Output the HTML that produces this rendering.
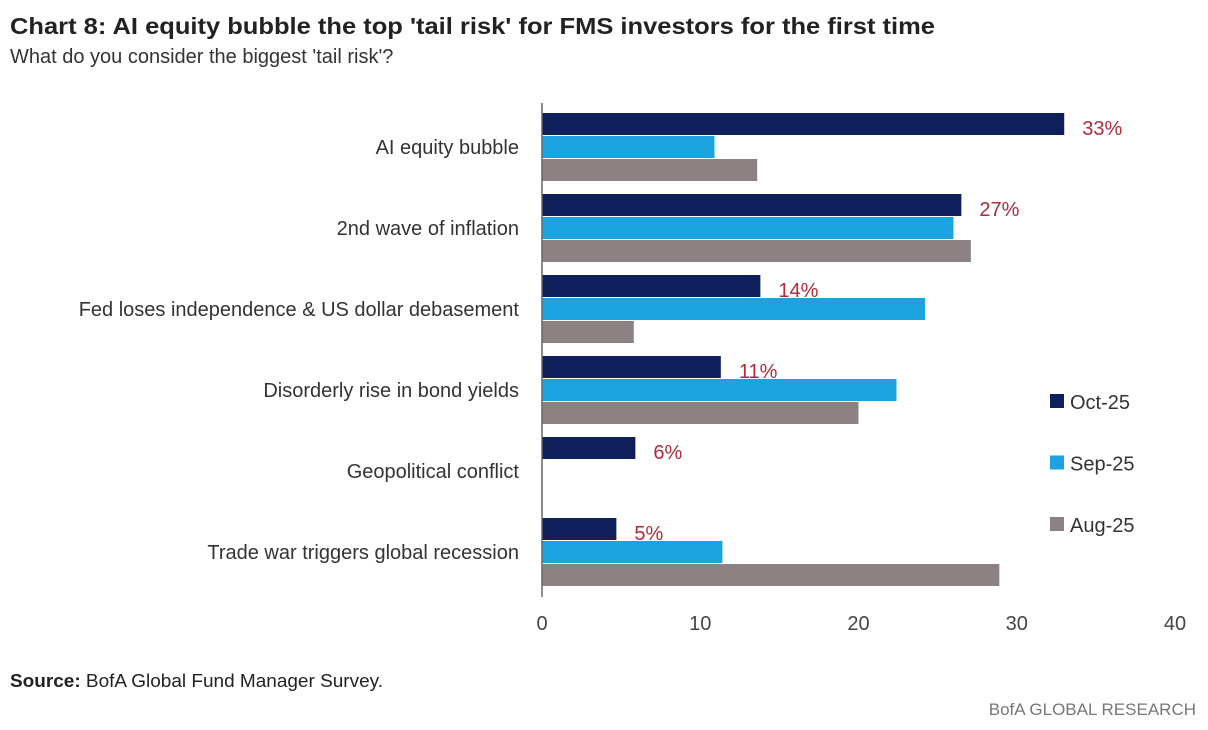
<!DOCTYPE html>
<html><head><meta charset="utf-8"><style>
body{margin:0;width:1208px;height:725px;background:#fff;overflow:hidden;font-family:"Liberation Sans",sans-serif;}
</style></head><body>
<svg id="c" width="1208" height="725" xmlns="http://www.w3.org/2000/svg">
<text x="10" y="34" font-size="23" font-weight="bold" fill="#222" textLength="925" lengthAdjust="spacingAndGlyphs">Chart 8: AI equity bubble the top 'tail risk' for FMS investors for the first time</text>
<text x="10" y="63" font-size="20" fill="#333">What do you consider the biggest 'tail risk'?</text>
<text x="10" y="687" font-size="18" fill="#222" textLength="373" lengthAdjust="spacingAndGlyphs"><tspan font-weight="bold">Source:</tspan> BofA Global Fund Manager Survey.</text>
<text x="1196" y="715" font-size="17" fill="#777" text-anchor="end">BofA GLOBAL RESEARCH</text>
<g id="plot"></g>
</svg>
<script>
const categories=["AI equity bubble","2nd wave of inflation","Fed loses independence & US dollar debasement","Disorderly rise in bond yields","Geopolitical conflict","Trade war triggers global recession"];
const oct25=[33,26.5,13.8,11.3,5.9,4.7];
const sep25=[10.9,26,24.2,22.4,0,11.4];
const aug25=[13.6,27.1,5.8,20,0,28.9];
const octLabels=["33%","27%","14%","11%","6%","5%"];
const ticks=[0,10,20,30,40];
const seriesNames=["Oct-25","Sep-25","Aug-25"];
const colors=["#0f1f5c","#1ba3e0","#8c8283"];
const NS="http://www.w3.org/2000/svg";
const g=document.getElementById('plot');
const x0=542,x1=1175,xmax=40;
const X=v=>x0+v/xmax*(x1-x0);
const gTop=113,gH=81,bH=22;
function el(t,a){const e=document.createElementNS(NS,t);for(const k in a)e.setAttribute(k,a[k]);g.appendChild(e);return e;}
const series=[oct25,sep25,aug25];
categories.forEach((c,i)=>{
 const t=el('text',{x:519,y:gTop+i*gH+41,'font-size':20,fill:'#333','text-anchor':'end'});
 t.textContent=c;
 
 
 series.forEach((s,j)=>{
  if(s[i]<=0)return;
  const r=el('rect',{x:x0,y:gTop+i*gH+j*(bH+1),width:X(s[i])-x0,height:bH,fill:colors[j]});
  
  
 });
 const l=el('text',{x:X(oct25[i])+18,y:gTop+i*gH+22,'font-size':20,fill:'#b22a3a'});
 l.textContent=octLabels[i];
 
 
});
const ax=el('line',{x1:x0,x2:x0,y1:103,y2:597,stroke:'#666','stroke-width':1.5});


ticks.forEach(v=>{
 const t=el('text',{x:X(v),y:630,'font-size':20,fill:'#444','text-anchor':'middle'});
 t.textContent=v;
 
 
});
seriesNames.forEach((n,j)=>{
 const y=402+j*61.5;
 const r=el('rect',{x:1050,y:y-8,width:14,height:14,fill:colors[j]});
 
 
 const t=el('text',{x:1070,y:y+7,'font-size':20,fill:'#333'});
 t.textContent=n;
 
 
});
</script>
</body></html>
